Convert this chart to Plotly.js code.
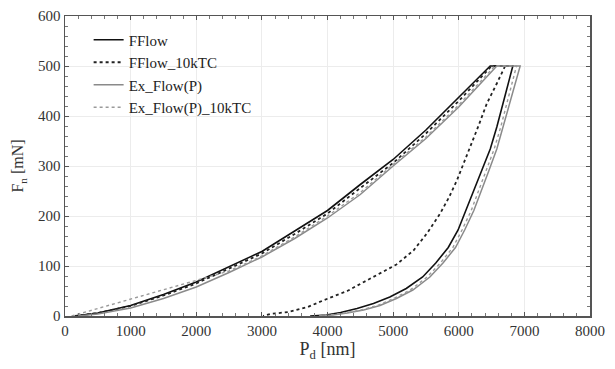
<!DOCTYPE html>
<html>
<head>
<meta charset="utf-8">
<script src="https://cdn.plot.ly/plotly-3.0.1.min.js"></script>
<style>html,body{margin:0;padding:0;background:#fff;}#chart{width:615px;height:369px;}</style>
</head>
<body>
<div id="chart"></div>
<script>
// FFlow
const fflowX = [150,500,1000,1500,2000,2500,3000,3500,4000,4500,5000,5500,6000,6479,6824,6700,6580,6480,6350,6120,5990,5840,5650,5450,5200,4950,4700,4450,4200,3980,3735];
const fflowF = [0,6,21,43,68,99,129,170,211,263,313,372,437,500,500,438,378,334,291,211,172,137,106,78,55,38,25,15,7,2,0];
// FFlow_10kTC
const fflow10X = [150,500,1000,1500,2000,2500,3000,3500,4000,4500,5000,5500,6000,6500,6707,6580,6428,6300,6174,6070,5971,5850,5716,5520,5310,5050,4700,4500,4300,3950,3700,3400,3125,3018];
const fflow10F = [0,6,20,41,65,95,125,164,205,256,306,365,430,500,500,465,425,380,338,303,271,237,205,166,131,103,78,65,50,32,18,8,4,0];
// Ex_Flow(P)
const exX = [200,500,1000,1500,2000,2500,3000,3500,4000,4500,5000,5500,6000,6580,6936,6810,6682,6580,6460,6230,6090,5950,5760,5560,5300,5050,4800,4550,4300,4080,3880];
const exF = [0,4,16,35,58,87,118,155,196,243,300,355,418,500,500,440,378,334,291,211,172,137,106,78,52,35,21,12,6,2,0];
// Ex_Flow(P)_10kTC
const ex10X = [100,500,1000,1500,2000,2500,3000,3500,4000,4500,5000,5500,6000,6550,6880,6760,6640,6540,6420,6190,6050,5910,5720,5520,5260,5010,4760,4510,4260,4040,3840];
const ex10F = [0,15,33,51,70,90,120,158,200,247,303,358,422,500,500,440,378,334,291,211,172,137,106,78,52,35,21,12,6,2,0];

const names = ['FFlow','FFlow_10kTC','Ex_Flow(P)','Ex_Flow(P)_10kTC'];
const tickVals = [0,1000,2000,3000,4000,5000,6000,7000,8000];
const tickText = ['0','1000','2000','3000','4000','5000','6000','7000','8000'];

const traces = [
  {x: fflowX, y: fflowF, name: names[0], mode:'lines', line:{color:'#111', width:1.6}},
  {x: fflow10X, y: fflow10F, name: names[1], mode:'lines', line:{color:'#222', width:1.8, dash:'dot'}},
  {x: exX, y: exF, name: names[2], mode:'lines', line:{color:'#8a8a8a', width:1.5}},
  {x: ex10X, y: ex10F, name: names[3], mode:'lines', line:{color:'#9a9a9a', width:1.4, dash:'dot'}}
];

const FAM = 'Liberation Serif';
const fnt = {family:FAM, size:15, color:'#333'};

const layout = {
  width:615, height:369,
  margin:{l:65, r:25, t:16, b:53},
  paper_bgcolor:'#fff', plot_bgcolor:'#fff',
  font: fnt,
  showlegend:true,
  legend:{x:0.045, y:0.975, xanchor:'left', yanchor:'top', bgcolor:'rgba(0,0,0,0)', font:{family:FAM, size:15, color:'#222'}, tracegroupgap:0, itemwidth:30},
  xaxis:{
    range:[0,8000], tickvals:tickVals, ticktext:tickText,
    showgrid:true, gridcolor:'#ececec', gridwidth:1,
    zeroline:false, showline:true, linecolor:'#555', linewidth:1.5, mirror:'ticks',
    ticks:'inside', ticklen:4, tickcolor:'#555',
    minor:{dtick:200, ticks:'inside', ticklen:3, tickcolor:'#777', showgrid:false},
    tickfont:fnt,
    title:{text:'P<sub>d</sub> [nm]', font:{family:FAM, size:18, color:'#333'}, standoff:5}
  },
  yaxis:{
    range:[0,600], dtick:100,
    showgrid:true, gridcolor:'#ececec', gridwidth:1,
    zeroline:false, showline:true, linecolor:'#555', linewidth:1.5, mirror:'ticks',
    ticks:'inside', ticklen:4, tickcolor:'#555',
    minor:{dtick:20, ticks:'inside', ticklen:3, tickcolor:'#777', showgrid:false},
    tickfont:fnt,
    title:{text:'F<sub>n</sub> [mN]', font:{family:FAM, size:16, color:'#333'}, standoff:10}
  }
};

Plotly.newPlot('chart', traces, layout, {displayModeBar:false, staticPlot:true});
</script>
</body>
</html>
